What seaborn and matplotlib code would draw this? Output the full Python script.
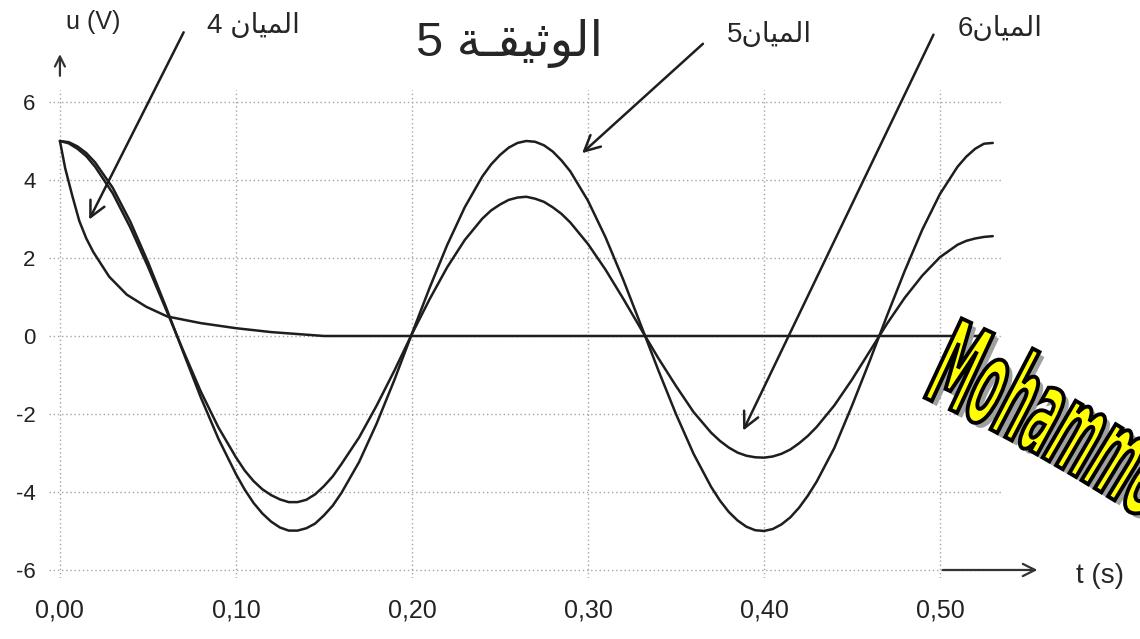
import numpy as np
import pandas as pd
import matplotlib
matplotlib.use("Agg")
import matplotlib.pyplot as plt
import seaborn as sns
from matplotlib.textpath import TextPath
from matplotlib.patches import PathPatch
from matplotlib.font_manager import FontProperties
from matplotlib.transforms import Affine2D

t_curve4 = [0.0, 0.003, 0.007, 0.011, 0.015, 0.019, 0.028, 0.038, 0.049,
            0.061, 0.08, 0.10, 0.12, 0.15, 0.53]
u_curve4 = [5.0, 4.3, 3.6, 2.95, 2.5, 2.15, 1.52, 1.06, 0.75,
            0.5, 0.33, 0.2, 0.1, 0.0, 0.0]

t_osc = [0.00, 0.005, 0.01, 0.015, 0.02, 0.03, 0.04, 0.05, 0.06, 0.07,
         0.08, 0.09, 0.10, 0.105, 0.11, 0.115, 0.12, 0.125, 0.13, 0.135,
         0.14, 0.145, 0.15, 0.155, 0.16, 0.17, 0.18, 0.19, 0.20, 0.21,
         0.22, 0.23, 0.24, 0.245, 0.25, 0.255, 0.26, 0.265, 0.27, 0.275,
         0.28, 0.285, 0.29, 0.30, 0.31, 0.32, 0.33, 0.34, 0.35, 0.36,
         0.37, 0.375, 0.38, 0.385, 0.39, 0.395, 0.40, 0.405, 0.41, 0.415,
         0.42, 0.425, 0.43, 0.44, 0.45, 0.46, 0.47, 0.48, 0.49, 0.50,
         0.51, 0.515, 0.52, 0.525, 0.53]
u_curve5 = [5.00, 4.97, 4.86, 4.69, 4.45, 3.80, 2.93, 1.90, 0.77, -0.41,
            -1.57, -2.63, -3.54, -3.94, -4.28, -4.55, -4.76, -4.91, -4.99, -4.99,
            -4.93, -4.81, -4.60, -4.35, -4.02, -3.23, -2.24, -1.13, 0.06, 1.23,
            2.33, 3.30, 4.09, 4.40, 4.64, 4.83, 4.95, 5.00, 4.98, 4.89,
            4.73, 4.50, 4.22, 3.47, 2.53, 1.45, 0.29, -0.88, -2.00, -3.02,
            -3.87, -4.22, -4.51, -4.73, -4.89, -4.98, -5.00, -4.95, -4.83, -4.65,
            -4.40, -4.09, -3.73, -2.87, -1.79, -0.65, 0.53, 1.67, 2.73, 3.64,
            4.34, 4.60, 4.80, 4.93, 4.95]
u_curve6 = [5.00, 4.94, 4.80, 4.61, 4.34, 3.66, 2.78, 1.78, 0.71, -0.37,
            -1.42, -2.34, -3.11, -3.45, -3.72, -3.93, -4.08, -4.19, -4.26, -4.26,
            -4.20, -4.06, -3.85, -3.60, -3.28, -2.60, -1.78, -0.89, 0.05, 0.94,
            1.76, 2.46, 3.01, 3.22, 3.37, 3.49, 3.55, 3.57, 3.52, 3.44,
            3.30, 3.13, 2.91, 2.36, 1.70, 0.96, 0.19, -0.57, -1.28, -1.95,
            -2.48, -2.69, -2.86, -2.99, -3.07, -3.11, -3.12, -3.09, -3.02, -2.91,
            -2.75, -2.56, -2.33, -1.78, -1.12, -0.40, 0.32, 0.98, 1.55, 2.02,
            2.34, 2.44, 2.50, 2.54, 2.56]

x_ticks = [0.0, 0.1, 0.2, 0.3, 0.4, 0.5]
x_tick_labels = ["0,00", "0,10", "0,20", "0,30", "0,40", "0,50"]
y_ticks = [-6, -4, -2, 0, 2, 4, 6]
y_tick_labels = ["-6", "-4", "-2", "0", "2", "4", "6"]

# textes arabes (formes de présentation, ordre visuel)
title_text = "5 ﺔـﻘﻴﺛﻮﻟﺍ"
label4 = "4 ﻥﺎﻴﻤﻟﺍ"
label5 = "5ﻥﺎﻴﻤﻟﺍ"
label6 = "6ﻥﺎﻴﻤﻟﺍ"

df = pd.concat([
    pd.DataFrame({"t": t_curve4, "u": u_curve4, "courbe": "4"}),
    pd.DataFrame({"t": t_osc, "u": u_curve5, "courbe": "5"}),
    pd.DataFrame({"t": t_osc, "u": u_curve6, "courbe": "6"}),
])

sns.set_theme(style="white")
plt.rcParams["font.family"] = ["Liberation Sans", "DejaVu Sans"]
plt.rcParams["axes.unicode_minus"] = False

fig = plt.figure(figsize=(11.4, 6.39), dpi=100)
ax = fig.add_axes([0.0433, 0.0958, 0.8368, 0.7629])

sns.lineplot(data=df, x="t", y="u", hue="courbe", units="courbe", estimator=None,
             palette=["#1e1e1e"] * 3, lw=1.8, legend=False, sort=False, ax=ax)
for ln in ax.lines:
    ln.set_solid_joinstyle("round")

ax.set_xlim(-0.006, 0.536)
ax.set_ylim(-6.2, 6.3)
ax.set_xticks(x_ticks)
ax.set_xticklabels(x_tick_labels, fontsize=18, color="#222")
ax.set_yticks(y_ticks)
ax.set_yticklabels(y_tick_labels, fontsize=16, color="#222")
ax.tick_params(axis="x", length=0, pad=15)
ax.tick_params(axis="y", length=0, pad=10)
ax.set_xlabel("")
ax.set_ylabel("")
for s in ax.spines.values():
    s.set_visible(False)
ax.grid(True, color="#a5a5a5", linestyle=(0, (1, 2)), lw=1)

# flèches des axes
ax.annotate("", xy=(0, 7.3), xytext=(0, 6.6),
            arrowprops=dict(arrowstyle="->", lw=1.6, color="#333", mutation_scale=18),
            annotation_clip=False)
ax.annotate("", xy=(0.557, -6), xytext=(0.5, -6),
            arrowprops=dict(arrowstyle="->", lw=1.6, color="#333", mutation_scale=22),
            annotation_clip=False)
ax.text(0.019, 8.05, "u (V)", fontsize=18, ha="center", va="center", clip_on=False)
ax.text(0.591, -6.15, "t (s)", fontsize=20, ha="center", va="center", clip_on=False)

# titre et étiquettes des courbes
ax.text(0.2557, 7.5, title_text, fontsize=35, ha="center", va="center", clip_on=False)
ax.text(0.1097, 7.95, label4, fontsize=20, ha="center", va="center", clip_on=False)
ax.text(0.403, 7.72, label5, fontsize=20, ha="center", va="center", clip_on=False)
ax.text(0.534, 7.88, label6, fontsize=20, ha="center", va="center", clip_on=False)

arrow_kw = dict(arrowstyle="->", lw=1.8, color="#1e1e1e", mutation_scale=28)
ax.annotate("", xy=(0.0159, 2.92), xytext=(0.071, 7.85), arrowprops=arrow_kw,
            annotation_clip=False)
ax.annotate("", xy=(0.2955, 4.64), xytext=(0.3665, 7.54), arrowprops=arrow_kw,
            annotation_clip=False)
ax.annotate("", xy=(0.3875, -2.49), xytext=(0.497, 7.79), arrowprops=arrow_kw,
            annotation_clip=False)

# filigrane jaune "Mohammed"
fp = FontProperties(family="DejaVu Sans", weight="bold")
wm = "Mohammed"
px, py = 921.0, 396.0
sx, sy = 0.44, 1.2
angles = np.linspace(-25, -34, len(wm))
for ch, ang in zip(wm, angles):
    tp = TextPath((0, 0), ch, size=1, prop=fp)
    adv = tp.get_extents().x1 + 0.06
    base = Affine2D().scale(sx, sy).rotate_deg(ang)
    shadow = PathPatch(tp, transform=base + Affine2D().translate(px / 100 + 0.05, (639 - py) / 100 - 0.05)
                       + fig.dpi_scale_trans, fc="#a0a0a0", ec="none", zorder=9)
    letter = PathPatch(tp, transform=base + Affine2D().translate(px / 100, (639 - py) / 100)
                       + fig.dpi_scale_trans, fc="#ffff00", ec="black", lw=2.8, zorder=10)
    fig.add_artist(shadow)
    fig.add_artist(letter)
    step = adv * sx * 100
    px += step * np.cos(np.radians(ang))
    py -= step * np.sin(np.radians(ang))

fig.savefig("out.png", dpi=100)
